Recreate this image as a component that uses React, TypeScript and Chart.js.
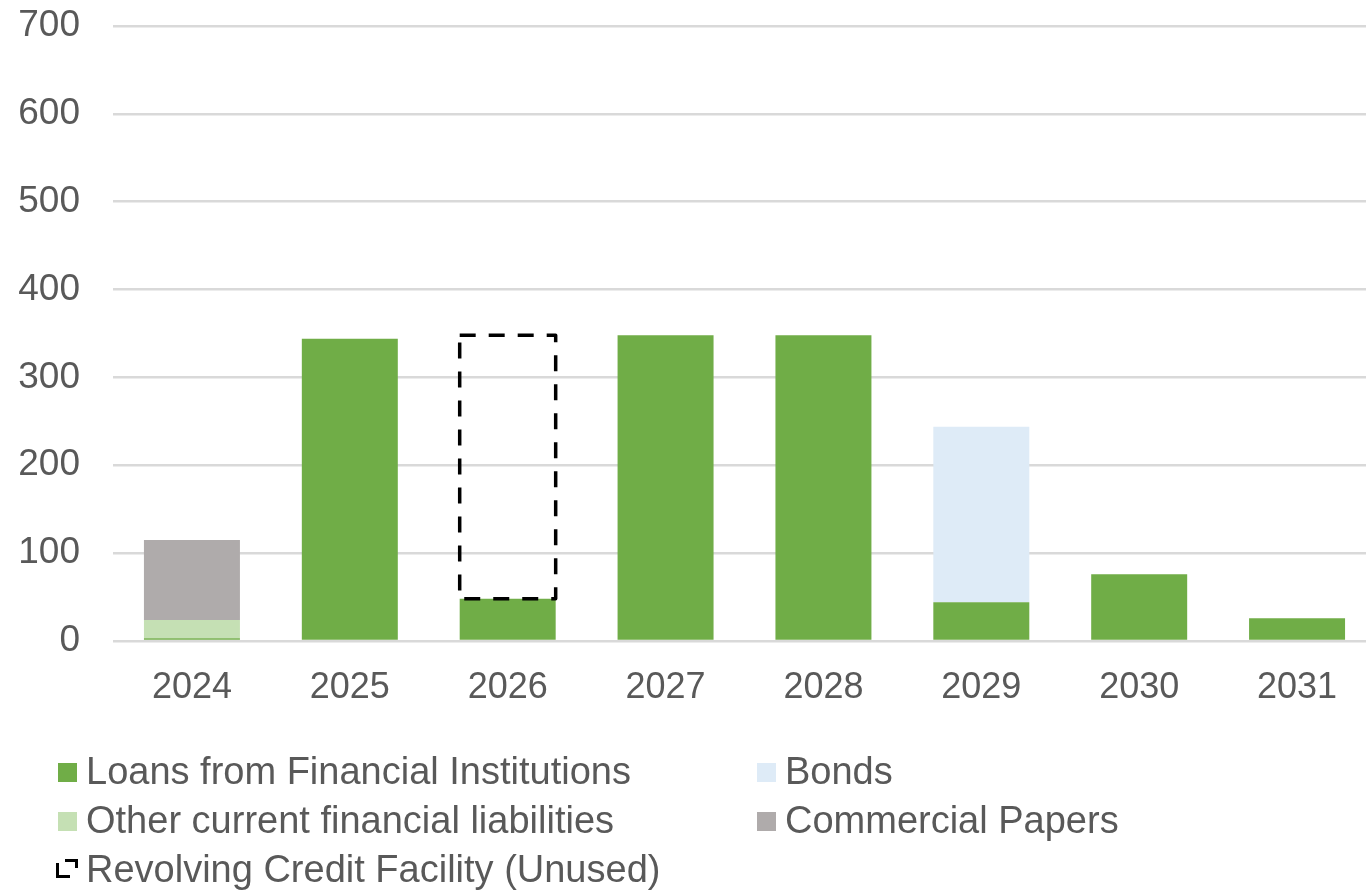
import React, { useEffect, useRef } from "react";
import { Chart, registerables } from "chart.js";

Chart.register(...registerables);

const categories = ["2024", "2025", "2026", "2027", "2028", "2029", "2030", "2031"];
const loans = [3, 344, 48, 348, 348, 44, 76, 26];
const otherCurrent = [21, 0, 0, 0, 0, 0, 0, 0];
const commercialPapers = [91, 0, 0, 0, 0, 0, 0, 0];
const bonds = [0, 0, 0, 0, 0, 200, 0, 0];
const revolving = [0, 0, 300, 0, 0, 0, 0, 0];
const yTicks = [0, 100, 200, 300, 400, 500, 600, 700];

const TEXT = "#595959";
const FONT = "'Liberation Sans', Arial, sans-serif";

const dashedBoxPlugin = {
  id: "dashedBox",
  afterDatasetsDraw(chart: any) {
    const idx = chart.data.datasets.findIndex((d: any) => d.dashedBox);
    if (idx < 0) return;
    const meta = chart.getDatasetMeta(idx);
    const ctx = chart.ctx;
    ctx.save();
    ctx.setLineDash([16, 13]);
    ctx.lineWidth = 3.5;
    ctx.strokeStyle = "#000000";
    ctx.lineJoin = "round";
    meta.data.forEach((el: any, i: number) => {
      if (!revolving[i]) return;
      const p = el.getProps(["x", "y", "base", "width"], true);
      ctx.strokeRect(p.x - p.width / 2, p.y, p.width, p.base - p.y);
    });
    ctx.restore();
  },
};

const legendItems = [
  { label: "Loans from Financial Institutions", color: "#70AD47", col: 0, row: 0 },
  { label: "Bonds", color: "#DEEBF7", col: 1, row: 0 },
  { label: "Other current financial liabilities", color: "#C5E0B4", col: 0, row: 1 },
  { label: "Commercial Papers", color: "#AFABAB", col: 1, row: 1 },
  { label: "Revolving Credit Facility (Unused)", color: null, col: 0, row: 2 },
];

export default function App() {
  const ref = useRef<HTMLCanvasElement | null>(null);

  useEffect(() => {
    if (!ref.current) return;
    const chart = new Chart(ref.current, {
      type: "bar",
      data: {
        labels: categories,
        datasets: [
          { label: "Loans from Financial Institutions", data: loans, backgroundColor: "#70AD47" },
          { label: "Other current financial liabilities", data: otherCurrent, backgroundColor: "#C5E0B4" },
          { label: "Commercial Papers", data: commercialPapers, backgroundColor: "#AFABAB" },
          { label: "Bonds", data: bonds, backgroundColor: "#DEEBF7" },
          {
            label: "Revolving Credit Facility (Unused)",
            data: revolving,
            backgroundColor: "rgba(0,0,0,0)",
            borderWidth: 0,
            dashedBox: true,
          } as any,
        ],
      },
      options: {
        responsive: false,
        animation: false,
        devicePixelRatio: 1,
        layout: { padding: { top: 26, left: 0, right: 0, bottom: 149 } },
        datasets: { bar: { barPercentage: 0.608, categoryPercentage: 1 } },
        plugins: { legend: { display: false }, tooltip: { enabled: false } },
        scales: {
          x: {
            stacked: true,
            grid: { display: false, drawTicks: false },
            border: { display: false },
            ticks: { color: TEXT, font: { family: FONT, size: 36 }, padding: 25 },
            afterFit: (s: any) => {
              s.height = 100;
              s.paddingLeft = 0;
              s.paddingRight = 0;
            },
          },
          y: {
            stacked: true,
            min: 0,
            max: 700,
            afterBuildTicks: (s: any) => {
              s.ticks = yTicks.map((v) => ({ value: v }));
            },
            grid: { color: "#D9D9D9", lineWidth: 2.5, drawTicks: false },
            border: { display: false },
            ticks: { color: TEXT, font: { family: FONT, size: 37 }, padding: 33 },
            afterFit: (s: any) => {
              s.width = 113;
              s.paddingTop = 0;
              s.paddingBottom = 0;
            },
          },
        },
      },
      plugins: [dashedBoxPlugin],
    });
    return () => chart.destroy();
  }, []);

  return (
    <div
      style={{
        position: "fixed",
        left: 0,
        top: 0,
        width: 1366,
        height: 890,
        overflow: "hidden",
        background: "#fff",
      }}
    >
      <canvas ref={ref} width={1376} height={890} style={{ position: "absolute", left: 0, top: 0 }} />
      {legendItems.map((it, i) => (
        <div
          key={i}
          style={{
            position: "absolute",
            left: it.col === 0 ? 58 : 757,
            top: 752 + it.row * 49,
            height: 38,
            display: "flex",
            alignItems: "flex-start",
            fontFamily: FONT,
            fontSize: 38,
            lineHeight: "38px",
            color: TEXT,
            whiteSpace: "nowrap",
          }}
        >
          {it.color ? (
            <div style={{ width: 19, height: 19, marginTop: 11, marginRight: 9, background: it.color }} />
          ) : (
            <svg width={22} height={19} style={{ marginTop: 9, marginRight: 8, marginLeft: -2, flexShrink: 0 }}>
              <path d="M1.5 4 V17.5 H14" stroke="#000" strokeWidth={3} fill="none" />
              <path d="M9 1.5 H20.5 V9" stroke="#000" strokeWidth={3} fill="none" />
            </svg>
          )}
          <span>{it.label}</span>
        </div>
      ))}
    </div>
  );
}
